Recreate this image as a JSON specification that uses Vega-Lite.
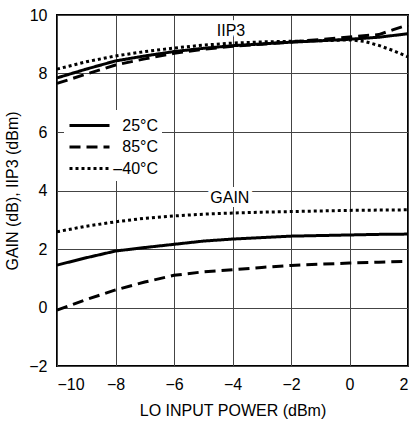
{
  "$schema": "https://vega.github.io/schema/vega-lite/v6.json",
  "width": 351,
  "height": 351,
  "autosize": "none",
  "padding": {"left": 57, "top": 15, "right": 1, "bottom": 57},
  "background": "white",
  "config": {
    "font": "Liberation Sans",
    "view": {"stroke": "black", "strokeWidth": 2},
    "axis": {
      "grid": true,
      "gridColor": "#444",
      "gridWidth": 1,
      "gridOpacity": 1,
      "domain": false,
      "ticks": false,
      "labelFont": "Liberation Sans",
      "labelFontSize": 16,
      "labelColor": "black",
      "labelPadding": 10,
      "titleFont": "Liberation Sans",
      "titleFontSize": 16,
      "titleFontWeight": "normal",
      "titleColor": "black"
    }
  },
  "datasets": {
    "curves": [
      {"metric": "IIP3", "temp": "25°C", "power": -10, "value": 7.85},
      {"metric": "IIP3", "temp": "25°C", "power": -9, "value": 8.15},
      {"metric": "IIP3", "temp": "25°C", "power": -8, "value": 8.43},
      {"metric": "IIP3", "temp": "25°C", "power": -7, "value": 8.6},
      {"metric": "IIP3", "temp": "25°C", "power": -6, "value": 8.75},
      {"metric": "IIP3", "temp": "25°C", "power": -5, "value": 8.86},
      {"metric": "IIP3", "temp": "25°C", "power": -4, "value": 8.95},
      {"metric": "IIP3", "temp": "25°C", "power": -3, "value": 9.01},
      {"metric": "IIP3", "temp": "25°C", "power": -2, "value": 9.07},
      {"metric": "IIP3", "temp": "25°C", "power": -1, "value": 9.12},
      {"metric": "IIP3", "temp": "25°C", "power": 0, "value": 9.17},
      {"metric": "IIP3", "temp": "25°C", "power": 1, "value": 9.24},
      {"metric": "IIP3", "temp": "25°C", "power": 2, "value": 9.36},
      {"metric": "IIP3", "temp": "85°C", "power": -10, "value": 7.66},
      {"metric": "IIP3", "temp": "85°C", "power": -9, "value": 7.98},
      {"metric": "IIP3", "temp": "85°C", "power": -8, "value": 8.29},
      {"metric": "IIP3", "temp": "85°C", "power": -7, "value": 8.5},
      {"metric": "IIP3", "temp": "85°C", "power": -6, "value": 8.69},
      {"metric": "IIP3", "temp": "85°C", "power": -5, "value": 8.83},
      {"metric": "IIP3", "temp": "85°C", "power": -4, "value": 8.93},
      {"metric": "IIP3", "temp": "85°C", "power": -3, "value": 9.0},
      {"metric": "IIP3", "temp": "85°C", "power": -2, "value": 9.08},
      {"metric": "IIP3", "temp": "85°C", "power": -1, "value": 9.16},
      {"metric": "IIP3", "temp": "85°C", "power": 0, "value": 9.25},
      {"metric": "IIP3", "temp": "85°C", "power": 1, "value": 9.33},
      {"metric": "IIP3", "temp": "85°C", "power": 1.5, "value": 9.5},
      {"metric": "IIP3", "temp": "85°C", "power": 2, "value": 9.66},
      {"metric": "IIP3", "temp": "–40°C", "power": -10, "value": 8.15},
      {"metric": "IIP3", "temp": "–40°C", "power": -9, "value": 8.4},
      {"metric": "IIP3", "temp": "–40°C", "power": -8, "value": 8.6},
      {"metric": "IIP3", "temp": "–40°C", "power": -7, "value": 8.75},
      {"metric": "IIP3", "temp": "–40°C", "power": -6, "value": 8.87},
      {"metric": "IIP3", "temp": "–40°C", "power": -5, "value": 8.97},
      {"metric": "IIP3", "temp": "–40°C", "power": -4, "value": 9.04},
      {"metric": "IIP3", "temp": "–40°C", "power": -3, "value": 9.08},
      {"metric": "IIP3", "temp": "–40°C", "power": -2, "value": 9.1},
      {"metric": "IIP3", "temp": "–40°C", "power": -1, "value": 9.12},
      {"metric": "IIP3", "temp": "–40°C", "power": 0, "value": 9.15},
      {"metric": "IIP3", "temp": "–40°C", "power": 0.5, "value": 9.1},
      {"metric": "IIP3", "temp": "–40°C", "power": 1, "value": 8.96},
      {"metric": "IIP3", "temp": "–40°C", "power": 1.5, "value": 8.78},
      {"metric": "IIP3", "temp": "–40°C", "power": 2, "value": 8.57},
      {"metric": "GAIN", "temp": "25°C", "power": -10, "value": 1.45},
      {"metric": "GAIN", "temp": "25°C", "power": -9, "value": 1.7},
      {"metric": "GAIN", "temp": "25°C", "power": -8, "value": 1.93},
      {"metric": "GAIN", "temp": "25°C", "power": -7, "value": 2.05},
      {"metric": "GAIN", "temp": "25°C", "power": -6, "value": 2.16},
      {"metric": "GAIN", "temp": "25°C", "power": -5, "value": 2.27},
      {"metric": "GAIN", "temp": "25°C", "power": -4, "value": 2.34},
      {"metric": "GAIN", "temp": "25°C", "power": -3, "value": 2.39},
      {"metric": "GAIN", "temp": "25°C", "power": -2, "value": 2.44},
      {"metric": "GAIN", "temp": "25°C", "power": -1, "value": 2.46},
      {"metric": "GAIN", "temp": "25°C", "power": 0, "value": 2.48},
      {"metric": "GAIN", "temp": "25°C", "power": 1, "value": 2.5},
      {"metric": "GAIN", "temp": "25°C", "power": 2, "value": 2.51},
      {"metric": "GAIN", "temp": "85°C", "power": -10, "value": -0.09},
      {"metric": "GAIN", "temp": "85°C", "power": -9, "value": 0.27},
      {"metric": "GAIN", "temp": "85°C", "power": -8, "value": 0.6},
      {"metric": "GAIN", "temp": "85°C", "power": -7, "value": 0.87},
      {"metric": "GAIN", "temp": "85°C", "power": -6, "value": 1.1},
      {"metric": "GAIN", "temp": "85°C", "power": -5, "value": 1.22},
      {"metric": "GAIN", "temp": "85°C", "power": -4, "value": 1.29},
      {"metric": "GAIN", "temp": "85°C", "power": -3, "value": 1.37},
      {"metric": "GAIN", "temp": "85°C", "power": -2, "value": 1.44},
      {"metric": "GAIN", "temp": "85°C", "power": -1, "value": 1.48},
      {"metric": "GAIN", "temp": "85°C", "power": 0, "value": 1.52},
      {"metric": "GAIN", "temp": "85°C", "power": 1, "value": 1.55},
      {"metric": "GAIN", "temp": "85°C", "power": 2, "value": 1.58},
      {"metric": "GAIN", "temp": "–40°C", "power": -10, "value": 2.59},
      {"metric": "GAIN", "temp": "–40°C", "power": -9, "value": 2.78},
      {"metric": "GAIN", "temp": "–40°C", "power": -8, "value": 2.93},
      {"metric": "GAIN", "temp": "–40°C", "power": -7, "value": 3.05},
      {"metric": "GAIN", "temp": "–40°C", "power": -6, "value": 3.13},
      {"metric": "GAIN", "temp": "–40°C", "power": -5, "value": 3.19},
      {"metric": "GAIN", "temp": "–40°C", "power": -4, "value": 3.23},
      {"metric": "GAIN", "temp": "–40°C", "power": -3, "value": 3.26},
      {"metric": "GAIN", "temp": "–40°C", "power": -2, "value": 3.28},
      {"metric": "GAIN", "temp": "–40°C", "power": -1, "value": 3.3},
      {"metric": "GAIN", "temp": "–40°C", "power": 0, "value": 3.32},
      {"metric": "GAIN", "temp": "–40°C", "power": 1, "value": 3.33},
      {"metric": "GAIN", "temp": "–40°C", "power": 2, "value": 3.34}
    ],
    "labels": [
      {"label": "IIP3", "power": -4.05, "value": 9.45},
      {"label": "GAIN", "power": -4.09, "value": 3.73}
    ]
  },
  "encoding": {
    "x": {
      "field": "power",
      "type": "quantitative",
      "scale": {"domain": [-10, 2], "nice": false},
      "axis": {"values": [-10, -8, -6, -4, -2, 0, 2], "title": "LO INPUT POWER (dBm)", "titlePadding": 10}
    },
    "y": {
      "field": "value",
      "type": "quantitative",
      "scale": {"domain": [-2, 10], "nice": false},
      "axis": {"values": [-2, 0, 2, 4, 6, 8, 10], "title": "GAIN (dB), IIP3 (dBm)", "titlePadding": 8}
    }
  },
  "layer": [
    {
      "data": {"name": "labels"},
      "mark": {"type": "text", "fontSize": 16, "font": "Liberation Sans", "stroke": "white", "strokeWidth": 8, "fill": "white", "baseline": "middle", "align": "center"},
      "encoding": {"text": {"field": "label"}}
    },
    {
      "data": {"name": "curves"},
      "mark": {"type": "line", "color": "black", "strokeWidth": 3, "strokeCap": "butt"},
      "encoding": {
        "detail": {"field": "metric"},
        "strokeDash": {
          "field": "temp",
          "type": "nominal",
          "scale": {"domain": ["25°C", "85°C", "–40°C"], "range": [[1, 0], [11, 6], [3, 3]]},
          "legend": {
            "title": null,
            "orient": "none",
            "legendX": 7,
            "legendY": 95,
            "fillColor": "white",
            "padding": 4,
            "symbolType": "M-1,0H3",
            "symbolSize": 400,
            "symbolStrokeWidth": 3,
            "symbolStrokeColor": "black",
            "labelFont": "Liberation Sans",
            "labelFontSize": 16,
            "labelColor": "black",
            "labelAlign": "right",
            "labelOffset": 67,
            "rowPadding": 1.5
          }
        }
      }
    },
    {
      "data": {"name": "labels"},
      "mark": {"type": "text", "fontSize": 16, "font": "Liberation Sans", "color": "black", "baseline": "middle", "align": "center"},
      "encoding": {"text": {"field": "label"}}
    }
  ]
}
